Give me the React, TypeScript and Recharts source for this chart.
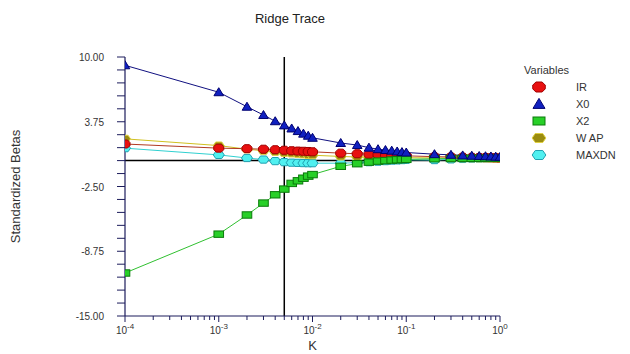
import React from "react";
import {
  LineChart,
  Line,
  XAxis,
  YAxis,
  ReferenceLine,
} from "recharts";

// ridge parameter K (log axis)
const kValues = [
  0.0001, 0.001, 0.002, 0.003, 0.004, 0.005, 0.006, 0.007, 0.008, 0.009, 0.01,
  0.02, 0.03, 0.04, 0.05, 0.06, 0.07, 0.08, 0.09, 0.1, 0.2, 0.3, 0.4, 0.5, 0.6,
  0.7, 0.8, 0.9, 1.0,
];

const irValues = [
  1.6, 1.2, 1.15, 1.1, 1.05, 1.0, 0.95, 0.92, 0.9, 0.88, 0.85, 0.72, 0.66, 0.62,
  0.58, 0.55, 0.52, 0.5, 0.48, 0.46, 0.38, 0.35, 0.33, 0.31, 0.3, 0.29, 0.28,
  0.27, 0.26,
];
const x0Values = [
  9.2, 6.6, 5.2, 4.4, 3.8, 3.4, 3.1, 2.85, 2.6, 2.4, 2.2, 1.7, 1.5, 1.25, 1.1,
  1.02, 0.96, 0.88, 0.82, 0.78, 0.62, 0.56, 0.5, 0.47, 0.44, 0.42, 0.4, 0.38,
  0.36,
];
const x2Values = [
  -10.85, -7.1, -5.25, -4.1, -3.3, -2.75, -2.2, -1.95, -1.7, -1.5, -1.35, -0.55,
  -0.3, -0.15, -0.05, 0.0, 0.05, 0.08, 0.1, 0.12, 0.18, 0.2, 0.21, 0.22, 0.22,
  0.23, 0.23, 0.23, 0.23,
];
const wapValues = [
  2.1, 1.45, 1.1, 0.95, 0.85, 0.75, 0.7, 0.65, 0.6, 0.55, 0.52, 0.4, 0.35, 0.33,
  0.31, 0.3, 0.3, 0.29, 0.28, 0.28, 0.26, 0.25, 0.24, 0.23, 0.22, 0.22, 0.21,
  0.2, 0.2,
];
const maxdnValues = [
  1.2, 0.55, 0.25, 0.1, -0.05, -0.15, -0.2, -0.22, -0.24, -0.25, -0.25, -0.25,
  -0.2, -0.15, -0.1, -0.05, 0.0, 0.02, 0.05, 0.08, 0.05, 0.12, 0.16, 0.18, 0.2,
  0.21, 0.22, 0.22, 0.23,
];

const xTicks = [
  0.0001, 0.0002, 0.0003, 0.0004, 0.0005, 0.0006, 0.0007, 0.0008, 0.0009,
  0.001, 0.002, 0.003, 0.004, 0.005, 0.006, 0.007, 0.008, 0.009,
  0.01, 0.02, 0.03, 0.04, 0.05, 0.06, 0.07, 0.08, 0.09,
  0.1, 0.2, 0.3, 0.4, 0.5, 0.6, 0.7, 0.8, 0.9, 1,
];
const decadeLabels: Record<string, string> = {
  "0.0001": "-4",
  "0.001": "-3",
  "0.01": "-2",
  "0.1": "-1",
  "1": "0",
};
const yTicks = [
  -15, -13.75, -12.5, -11.25, -10, -8.75, -7.5, -6.25, -5, -3.75, -2.5, -1.25,
  0, 1.25, 2.5, 3.75, 5, 6.25, 7.5, 8.75, 10,
];
const yLabels = [-15, -8.75, -2.5, 3.75, 10];

const series = [
  { key: "IR", values: irValues, line: "#b03a22", fill: "#e81010", stroke: "#a00000", shape: "oct" },
  { key: "X0", values: x0Values, line: "#101080", fill: "#1020c0", stroke: "#000070", shape: "tri" },
  { key: "X2", values: x2Values, line: "#30c030", fill: "#28d028", stroke: "#0a7a0a", shape: "rect" },
  { key: "WAP", values: wapValues, line: "#d0c020", fill: "#9a8c10", stroke: "#e0d040", shape: "hex" },
  { key: "MAXDN", values: maxdnValues, line: "#30d0d0", fill: "#50f0f0", stroke: "#20a0b0", shape: "hex" },
];

const rows = kValues.map((k, i) => {
  const row: Record<string, number> = { k };
  series.forEach((s) => {
    row[s.key] = s.values[i];
  });
  return row;
});

const FONT = '"Liberation Sans", Arial, sans-serif';

const Marker = ({ shape, cx, cy, fill, stroke, r = 1 }: any) => {
  if (cx == null || cy == null) return null;
  const poly = (pts: number[][]) =>
    pts.map(([dx, dy]) => `${cx + dx * r},${cy + dy * r}`).join(" ");
  if (shape === "tri") {
    return (
      <polygon points={poly([[0, -4.5], [4.8, 3.5], [-4.8, 3.5]])} fill={fill} stroke={stroke} strokeWidth={1} />
    );
  }
  if (shape === "rect") {
    return (
      <rect
        x={cx - 4.8 * r}
        y={cy - 3.2 * r}
        width={9.6 * r}
        height={6.4 * r}
        fill={fill}
        stroke={stroke}
        strokeWidth={1}
      />
    );
  }
  if (shape === "oct") {
    return (
      <polygon
        points={poly([
          [-5, -1.5], [-2.5, -4], [2.5, -4], [5, -1.5],
          [5, 1.5], [2.5, 4], [-2.5, 4], [-5, 1.5],
        ])}
        fill={fill}
        stroke={stroke}
        strokeWidth={1}
      />
    );
  }
  return (
    <polygon
      points={poly([[-5.5, 0], [-3, -3.6], [3, -3.6], [5.5, 0], [3, 3.6], [-3, 3.6]])}
      fill={fill}
      stroke={stroke}
      strokeWidth={1}
    />
  );
};

const XTick = ({ x, y, payload }: any) => {
  const exp = decadeLabels[String(payload.value)];
  return (
    <g>
      <line x1={x} y1={y} x2={x} y2={y + (exp ? 6 : 4)} stroke="#1c1c5c" strokeWidth={1} />
      {exp && (
        <text x={x} y={y + 18} textAnchor="middle" fontSize={10} fill="#333" fontFamily={FONT}>
          <tspan>10</tspan>
          <tspan dy={-5} fontSize={8}>{exp}</tspan>
        </text>
      )}
    </g>
  );
};

const YTick = ({ x, y, payload }: any) => {
  const show = yLabels.includes(payload.value);
  return (
    <g>
      <line x1={x - 8} y1={y} x2={x} y2={y} stroke="#1c1c5c" strokeWidth={1} />
      {show && (
        <text x={x - 21} y={y + 4} textAnchor="end" fontSize={10} fill="#333" fontFamily={FONT}>
          {payload.value.toFixed(2)}
        </text>
      )}
    </g>
  );
};

const LegendMarker = ({ s }: any) => (
  <svg width={18} height={12} style={{ display: "block" }}>
    <Marker shape={s.shape} cx={9} cy={6} fill={s.fill} stroke={s.stroke} r={1.25} />
  </svg>
);

export default function App() {
  return (
    <div
      style={{
        position: "absolute",
        left: 0,
        top: 0,
        width: 630,
        height: 354,
        background: "#fff",
        fontFamily: FONT,
      }}
    >
      <div
        style={{
          position: "absolute",
          left: 0,
          width: 580,
          top: 11,
          textAlign: "center",
          fontSize: 13,
          color: "#222",
        }}
      >
        Ridge Trace
      </div>
      <LineChart
        width={630}
        height={354}
        data={rows}
        margin={{ top: 57, right: 130, bottom: 0, left: 0 }}
      >
        <XAxis
          dataKey="k"
          type="number"
          scale="log"
          domain={[0.0001, 1]}
          ticks={xTicks}
          interval={0}
          allowDataOverflow
          tickLine={false}
          tickSize={0}
          tickMargin={0}
          tick={<XTick />}
          axisLine={{ stroke: "#1c1c5c", strokeWidth: 1.2 }}
          height={38}
          label={{
            content: ({ viewBox }: any) => (
              <text
                x={viewBox.x + viewBox.width / 2}
                y={viewBox.y + 34}
                textAnchor="middle"
                fontSize={13}
                fill="#333"
                fontFamily={FONT}
              >
                K
              </text>
            ),
          }}
        />
        <YAxis
          type="number"
          domain={[-15, 10]}
          ticks={yTicks}
          interval={0}
          allowDataOverflow
          tickLine={false}
          tickSize={0}
          tickMargin={0}
          tick={<YTick />}
          axisLine={{ stroke: "#1c1c5c", strokeWidth: 1.2 }}
          width={125}
          label={{
            content: ({ viewBox }: any) => {
              const cy = viewBox.y + viewBox.height / 2;
              return (
                <text
                  x={20}
                  y={cy}
                  transform={`rotate(-90, 20, ${cy})`}
                  textAnchor="middle"
                  fontSize={13}
                  fill="#333"
                  fontFamily={FONT}
                >
                  Standardized Betas
                </text>
              );
            },
          }}
        />
        <ReferenceLine y={0} stroke="#000" strokeWidth={1.5} />
        <ReferenceLine x={0.005} stroke="#000" strokeWidth={1.5} />
        {[series[4], series[3], series[0], series[2], series[1]].map((s) => (
          <Line
            key={s.key}
            type="linear"
            dataKey={s.key}
            stroke={s.line}
            strokeWidth={1}
            isAnimationActive={false}
            dot={(p: any) => (
              <Marker
                key={`${s.key}-${p.index}`}
                shape={s.shape}
                cx={p.cx}
                cy={p.cy}
                fill={s.fill}
                stroke={s.stroke}
              />
            )}
            activeDot={false}
          />
        ))}
      </LineChart>
      <div style={{ position: "absolute", left: 524, top: 62, fontSize: 11, color: "#333" }}>
        <div style={{ height: 16, lineHeight: "16px" }}>Variables</div>
        {series.map((s) => (
          <div key={s.key} style={{ display: "flex", alignItems: "center", height: 17 }}>
            <div style={{ width: 46, paddingLeft: 6 }}>
              <LegendMarker s={s} />
            </div>
            <span>{s.key === "WAP" ? "W AP" : s.key}</span>
          </div>
        ))}
      </div>
    </div>
  );
}
